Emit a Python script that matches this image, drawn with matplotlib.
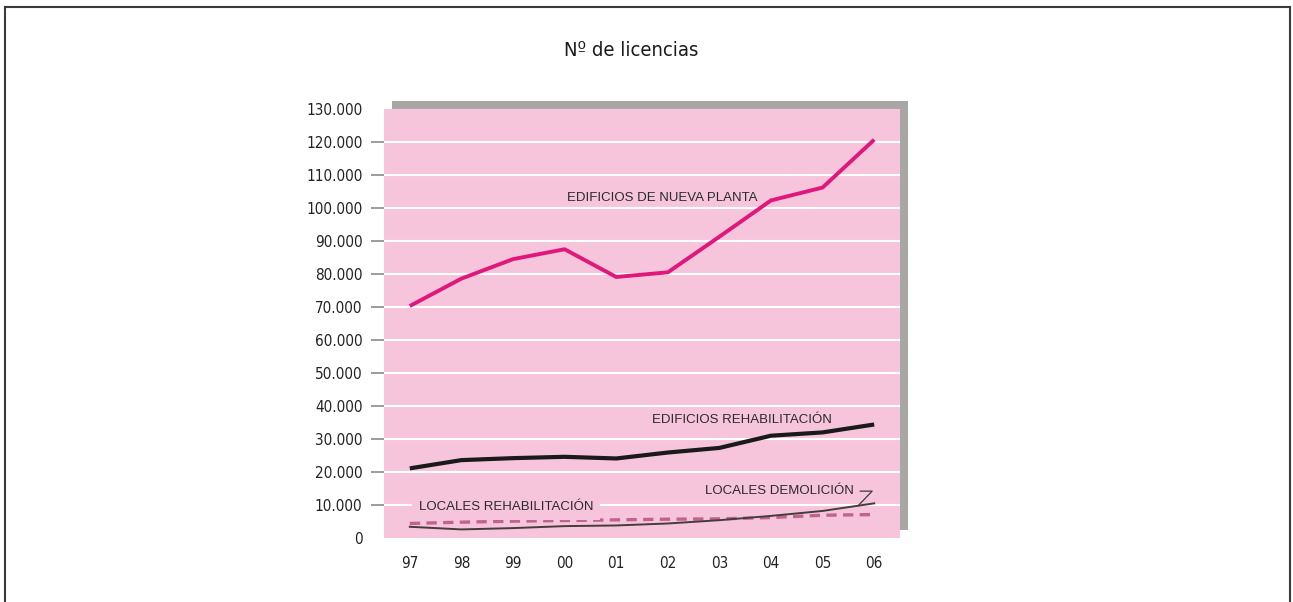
import numpy as np
import matplotlib.pyplot as plt
from matplotlib import font_manager
from matplotlib.patches import Rectangle
from matplotlib.lines import Line2D

# Data
years = ['97', '98', '99', '00', '01', '02', '03', '04', '05', '06']
nueva_planta = [70300, 78600, 84500, 87500, 79100, 80500, 91300, 102300, 106200, 120700]
edif_rehab = [21100, 23600, 24200, 24600, 24100, 25900, 27300, 31000, 32000, 34400]
loc_demolicion = [3400, 2600, 3000, 3600, 3800, 4400, 5400, 6700, 8200, 10500]
loc_rehab = [4400, 4800, 5100, 5300, 5500, 5700, 5800, 6200, 6900, 7100]
yticks = list(range(0, 130001, 10000))
ytick_labels = ['0'] + ['{:,}'.format(v).replace(',', '.') for v in yticks[1:]]

names = {f.name for f in font_manager.fontManager.ttflist}
narrow = 'Liberation Sans Narrow' if 'Liberation Sans Narrow' in names else 'DejaVu Sans'
plt.rcParams['font.family'] = ['Liberation Sans', 'DejaVu Sans']
cond = dict(fontfamily=narrow, fontstretch='condensed')

W, H = 1293, 602
fig = plt.figure(figsize=(W / 100, H / 100), dpi=100)

# frame around the figure
border = dict(color='#3a3a3a', lw=1.5, transform=fig.transFigure)
fig.add_artist(Line2D([5 / W, 5 / W], [0, 1 - 7 / H], **border))
fig.add_artist(Line2D([1 - 3 / W, 1 - 3 / W], [0, 1 - 7 / H], **border))
fig.add_artist(Line2D([5 / W, 1 - 3 / W], [1 - 7 / H, 1 - 7 / H], **border))

# gray shadow behind the plot area
fig.add_artist(Rectangle((392 / W, 72 / H), 516 / W, 429 / H, transform=fig.transFigure,
                         facecolor='#a9a7a6', edgecolor='none', zorder=-1))

ax = fig.add_axes([384 / W, 64 / H, 516 / W, 429 / H])
ax.set_facecolor('#f7c5db')
for s in ax.spines.values():
    s.set_visible(False)

x = np.arange(len(years))
ax.set_xlim(-0.5, len(years) - 0.5)
ax.set_ylim(0, 130000)

for v in yticks[1:-1]:
    ax.axhline(v, color='white', lw=1.5, zorder=1)

ax.plot(x, nueva_planta, color='#e0187b', lw=2.8, zorder=4, solid_capstyle='butt')
ax.plot(x, edif_rehab, color='#1a1a1a', lw=3.0, zorder=4, solid_capstyle='butt')
ax.plot(x, loc_demolicion, color='#453c3c', lw=1.4, zorder=4)
ax.plot(x, loc_rehab, color='#c0648f', lw=2.4, dashes=(3.1, 1.9), zorder=3)

ax.set_xticks(x)
ax.set_xticklabels(years, fontsize=11, color='#222222', **cond)
ax.tick_params(axis='x', length=0, pad=13)
ax.set_yticks(yticks)
ax.set_yticklabels(ytick_labels, fontsize=11, color='#222222', **cond)
ax.tick_params(axis='y', length=9.5, width=1.2, color='#8a8a8a', pad=6)
for t in ax.yaxis.get_major_ticks():
    if t.get_loc() in (0, 130000):
        t.tick1line.set_visible(False)

lab = dict(fontsize=9.5, color='#2a2a2a', zorder=6)
ax.text(4.9, 102900, 'EDIFICIOS DE NUEVA PLANTA', ha='center', va='center', **lab)
ax.text(6.44, 35700, 'EDIFICIOS REHABILITACIÓN', ha='center', va='center', **lab)
ax.text(8.6, 14200, 'LOCALES DEMOLICIÓN', ha='right', va='center', **lab)
ax.text(1.86, 9400, 'LOCALES REHABILITACIÓN', ha='center', va='center',
        bbox=dict(facecolor='#f7c5db', edgecolor='none', pad=5), **lab)

# leader from the label to the demolition line
xa = 8.69
ya = np.interp(xa, x, loc_demolicion)
ax.plot([8.73, 8.96, xa], [14200, 14200, ya], color='#3a3a3a', lw=0.9, zorder=6)

fig.text(631 / W, 1 - 50 / H, 'Nº de licencias', ha='center', va='center',
         fontsize=14.5, color='#1a1a1a', **cond)

fig.savefig('out.png', dpi=100)
